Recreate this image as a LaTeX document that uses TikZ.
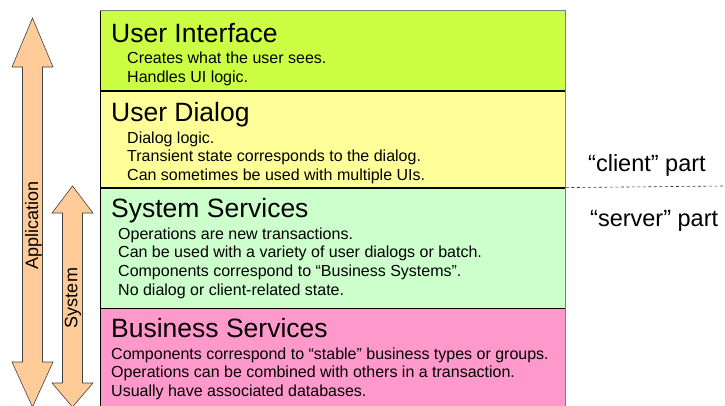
\documentclass[tikz,border=0pt]{standalone}
\usepackage{fontspec}
\setmainfont{Liberation Sans}
\usetikzlibrary{calc}
\definecolor{uicolor}{HTML}{CCFF44}
\definecolor{dialogcolor}{HTML}{FFFF99}
\definecolor{systemcolor}{HTML}{CCFFCC}
\definecolor{businesscolor}{HTML}{FF99CC}
\definecolor{arrowcolor}{HTML}{FFCC99}
\tikzset{layer/.style={draw=black,line width=0.8pt,anchor=north west,minimum width=465pt,inner sep=0pt},
  layer title/.style={anchor=base west,inner sep=0pt,font=\fontsize{26.5}{29}\selectfont},
  layer text/.style={anchor=base west,inner sep=0pt,align=left,font=\fontsize{16}{18.8}\selectfont},
  side label/.style={anchor=base west,inner sep=0pt,font=\fontsize{23.5}{26}\selectfont},
  span arrow/.style={fill=arrowcolor,draw=black!75,line width=0.6pt,line join=miter},
  span label/.style={rotate=90,inner sep=0pt,font=\fontsize{18}{20}\selectfont}}

\begin{document}
\begin{tikzpicture}[x=1pt,y=-1pt]
  \useasboundingbox (0,0) rectangle (725,405);
  \clip (0,0) rectangle (725,405);

  \node[layer,fill=uicolor,minimum height=80pt] (ui) at (100,10) {};
  \node[layer,fill=dialogcolor,minimum height=96pt] (dialog) at (ui.south west) {};
  \node[layer,fill=systemcolor,minimum height=120pt] (system) at (dialog.south west) {};
  \node[layer,fill=businesscolor,minimum height=110pt] (business) at (system.south west) {};
  \draw[black!50,line width=1pt] (ui.north west) -- (ui.north east) -- (business.south east);

  \node[layer title] (uiT) at (111,42) {User Interface};
  \node[layer text] (uiB) at (127,82) {Creates what the user sees.\\Handles UI logic.};
  \node[layer title] (dialogT) at (111,121) {User Dialog};
  \node[layer text] (dialogB) at (127,180.6) {Dialog logic.\\Transient state corresponds to the dialog.\\Can sometimes be used with multiple UIs.};
  \node[layer title] (systemT) at (111,217) {System Services};
  \node[layer text] (systemB) at (118,295.4) {Operations are new transactions.\\Can be used with a variety of user dialogs or batch.\\Components correspond to “Business Systems”.\\No dialog or client-related state.};
  \node[layer title] (businessT) at (111,337) {Business Services};
  \node[layer text] (businessB) at (111,396.6) {Components correspond to “stable” business types or groups.\\Operations can be combined with others in a transaction.\\Usually have associated databases.};

  \coordinate (split) at (725,186);
  \draw[dashed,black!80,line width=0.6pt,dash pattern=on 3pt off 2.5pt] (dialog.south east) -- (split);
  \node[side label] (client) at (588,171) {“client” part};
  \node[side label] (server) at (590,226) {“server” part};

  \draw[span arrow] (32.5,18) -- (53,67) -- (42.5,67) -- (42.5,362) -- (53,362) -- (32.5,407)
    -- (12,362) -- (22.5,362) -- (22.5,67) -- (12,67) -- cycle;
  \draw[span arrow] (72.5,186) -- (93,213) -- (82.5,213) -- (82.5,383) -- (93,383) -- (72.5,407)
    -- (52,383) -- (62.5,383) -- (62.5,213) -- (52,213) -- cycle;
  \node[span label] (application) at (33.5,225) {Application};
  \node[span label] (sys) at (73,298) {System};
\end{tikzpicture}
\end{document}
